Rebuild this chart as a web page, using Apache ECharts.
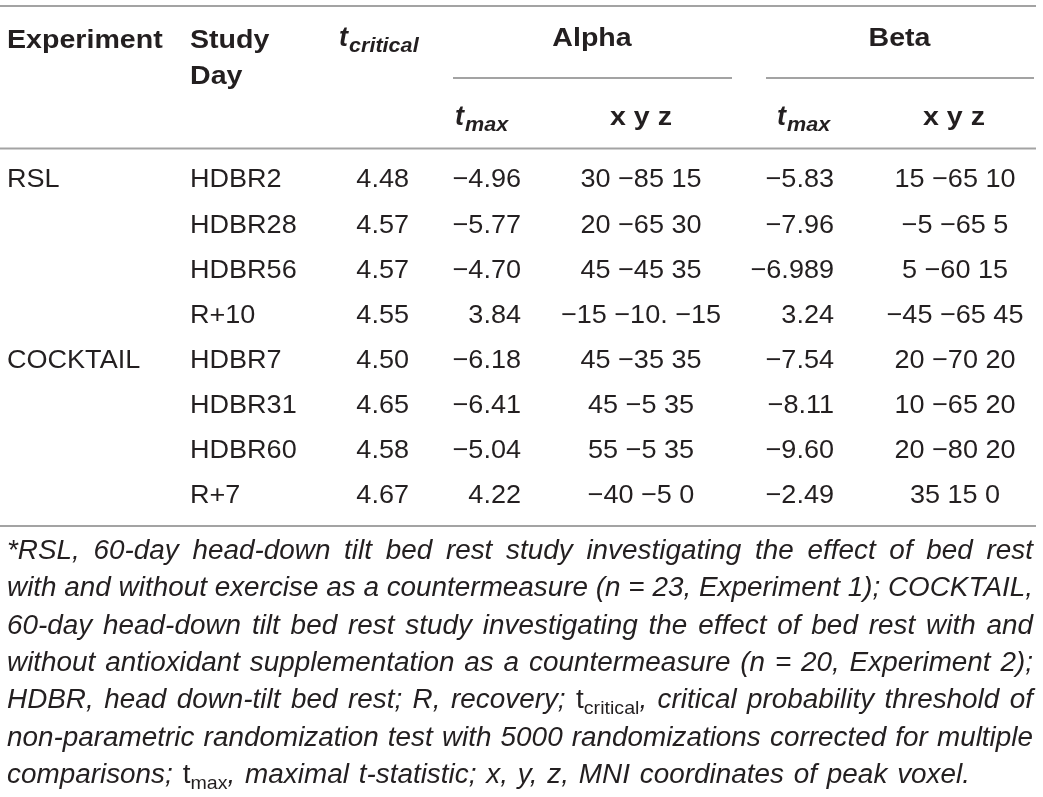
<!DOCTYPE html>
<html>
<head>
<meta charset="utf-8" />
<title>Table</title>
<script src="https://cdn.jsdelivr.net/npm/echarts@6/dist/echarts.min.js"></script>
<style>
html, body { margin: 0; padding: 0; background: #fff; }
#main { width: 1043px; height: 797px; }
</style>
</head>
<body>
<div id="main"></div>
<script>
var M = '\u2212';

// table values
var experiments = ['RSL', '', '', '', 'COCKTAIL', '', '', ''];
var studyDays = ['HDBR2', 'HDBR28', 'HDBR56', 'R+10', 'HDBR7', 'HDBR31', 'HDBR60', 'R+7'];
var tCritical = [4.48, 4.57, 4.57, 4.55, 4.50, 4.65, 4.58, 4.67];
var alphaTmax = [-4.96, -5.77, -4.70, 3.84, -6.18, -6.41, -5.04, 4.22];
var alphaXyz = ['30 −85 15', '20 −65 30', '45 −45 35', '−15 −10. −15', '45 −35 35', '45 −5 35', '55 −5 35', '−40 −5 0'];
var betaTmax = [-5.83, -7.96, -6.989, 3.24, -7.54, -8.11, -9.60, -2.49];
var betaXyz = ['15 −65 10', '−5 −65 5', '5 −60 15', '−45 −65 45', '20 −70 20', '10 −65 20', '20 −80 20', '35 15 0'];

// footnote, _{..} marks a subscript
var notes = [
    '*RSL, 60-day head-down tilt bed rest study investigating the effect of bed rest',
    'with and without exercise as a countermeasure (n = 23, Experiment 1); COCKTAIL,',
    '60-day head-down tilt bed rest study investigating the effect of bed rest with and',
    'without antioxidant supplementation as a countermeasure (n = 20, Experiment 2);',
    'HDBR, head down-tilt bed rest; R, recovery; t_{critical}, critical probability threshold of',
    'non-parametric randomization test with 5000 randomizations corrected for multiple',
    'comparisons; t_{max}, maximal t-statistic; x, y, z, MNI coordinates of peak voxel.'
];

var FONT = '"Liberation Sans", Arial, Helvetica, sans-serif';
var INK = '#231f20';
var RULE = '#a3a3a3';

// column anchors (pixels, the x axis runs 0..1043)
var columns = [
    { x: 7, align: 'left' },
    { x: 190, align: 'left' },
    { x: 409, align: 'right' },
    { x: 521, align: 'right' },
    { x: 641, align: 'center' },
    { x: 834, align: 'right' },
    { x: 955, align: 'center' }
];

function fmt(v) {
    var dec = (String(Math.abs(v)).split('.')[1] || '').length;
    return (v < 0 ? M : '') + Math.abs(v).toFixed(Math.max(2, dec));
}

var mctx = document.createElement('canvas').getContext('2d');
function textWidth(str, size, weight, style) {
    mctx.font = (style || 'normal') + ' ' + (weight || 'normal') + ' ' + size + 'px ' + FONT;
    return mctx.measureText(str).width;
}
// text is drawn middle-aligned, so shift from a baseline
function mid(baseline, size) { return baseline - size * 0.35; }

function txt(str, x, baseline, size, opt) {
    opt = opt || {};
    return {
        type: 'text', x: x, y: mid(baseline, size),
        scaleX: opt.sx || 1,
        style: {
            text: str, x: 0, y: 0,
            align: opt.align || 'left', verticalAlign: 'middle',
            fill: INK,
            font: (opt.style || 'normal') + ' ' + (opt.weight || 'normal') + ' ' + size + 'px ' + FONT
        }
    };
}
function rule(x1, x2, y) {
    return { type: 'line', shape: { x1: x1, y1: y, x2: x2, y2: y }, style: { stroke: RULE, lineWidth: 2 } };
}

var graphics = [];
// rules
graphics.push(rule(0, 1036, 6));
graphics.push(rule(453, 732, 78));
graphics.push(rule(766, 1034, 78));
graphics.push(rule(0, 1036, 148.5));
graphics.push(rule(0, 1036, 526));

// header
var HB = { weight: 'bold', sx: 1.1 };
graphics.push(txt('Experiment', 7, 50, 26, HB));
graphics.push(txt('Study', 190, 50, 26, HB));
graphics.push(txt('Day', 190, 86, 26, HB));
graphics.push(txt('Alpha', 592, 48, 26, { weight: 'bold', sx: 1.1, align: 'center' }));
graphics.push(txt('Beta', 899.5, 48, 26, { weight: 'bold', sx: 1.1, align: 'center' }));
graphics.push(txt('x y z', 641, 127, 26, { weight: 'bold', sx: 1.1, align: 'center' }));
graphics.push(txt('x y z', 954, 127, 26, { weight: 'bold', sx: 1.1, align: 'center' }));
function tSub(x, baseline, sub) {
    var w = textWidth('t', 27, 'bold', 'italic');
    graphics.push(txt('t', x, baseline, 27, { weight: 'bold', style: 'italic' }));
    graphics.push(txt(sub, x + w + 1, baseline + 5, 20, { weight: 'bold', style: 'italic', sx: 1.08 }));
}
tSub(339, 48, 'critical');
tSub(455, 127, 'max');
tSub(777, 127, 'max');

// footnote, justified word by word
var NS = 27;
var noteWords = notes.map(function (line) {
    return line.split(' ').map(function (w) {
        var m = w.match(/^(.*)_\{(.*)\}(.*)$/);
        var segs = m ? [{ s: m[1], k: 'up' }, { s: m[2], k: 'sub' }, { s: m[3], k: 'it' }] : [{ s: w, k: 'it' }];
        segs = segs.filter(function (s) { return s.s; });
        segs.forEach(function (s) {
            s.size = s.k === 'sub' ? 19 : NS;
            s.st = s.k === 'it' ? 'italic' : 'normal';
            s.w = textWidth(s.s, s.size, 'normal', s.st);
        });
        return segs;
    });
});
function wordsWidth(words) {
    var t = 0;
    words.forEach(function (segs) { segs.forEach(function (s) { t += s.w; }); });
    return t;
}
// glyph stretch so that the tightest line just fits with plain spaces
var spaceW = textWidth(' ', NS, 'normal', 'italic');
var stretch = Infinity;
noteWords.slice(0, 6).forEach(function (words) {
    var nat = wordsWidth(words) + spaceW * (words.length - 1);
    stretch = Math.min(stretch, (1033 - 7) / nat);
});
noteWords.forEach(function (words, li) {
    var base = 561 + 37.35 * li;
    var right = li === notes.length - 1 ? 970 : 1033;
    var total = wordsWidth(words) * stretch;
    var gap = Math.max(4, (right - 7 - total) / (words.length - 1));
    var x = 7;
    words.forEach(function (segs) {
        segs.forEach(function (s) {
            graphics.push(txt(s.s, x, s.k === 'sub' ? base + 5 : base, s.size, { style: s.st, sx: stretch }));
            x += s.w * stretch;
        });
        x += gap;
    });
});

var rowIndex = studyDays.map(function (d, i) { return [0, i]; });

function renderRow(params, api) {
    var i = params.dataIndex;
    var cells = [experiments[i], studyDays[i], fmt(tCritical[i]), fmt(alphaTmax[i]), alphaXyz[i], fmt(betaTmax[i]), betaXyz[i]];
    var children = [];
    columns.forEach(function (col, c) {
        if (!cells[c]) return;
        var p = api.coord([col.x, api.value(1)]);
        children.push({
            type: 'text', x: p[0], y: p[1], scaleX: 1.04,
            style: {
                text: cells[c], x: 0, y: 0,
                align: col.align, verticalAlign: 'middle',
                fill: INK, font: 'normal 26px ' + FONT
            }
        });
    });
    return { type: 'group', children: children };
}

var chart = echarts.init(document.getElementById('main'));
chart.setOption({
    backgroundColor: '#fff',
    animation: false,
    grid: { left: 0, right: 0, top: 157.75, bottom: 278.45 },
    xAxis: { type: 'value', min: 0, max: 1043, show: false },
    yAxis: { type: 'category', inverse: true, data: studyDays, show: false },
    graphic: graphics,
    series: [{
        type: 'custom',
        renderItem: renderRow,
        encode: { x: 0, y: 1 },
        data: rowIndex,
        silent: true
    }]
});
</script>
</body>
</html>
